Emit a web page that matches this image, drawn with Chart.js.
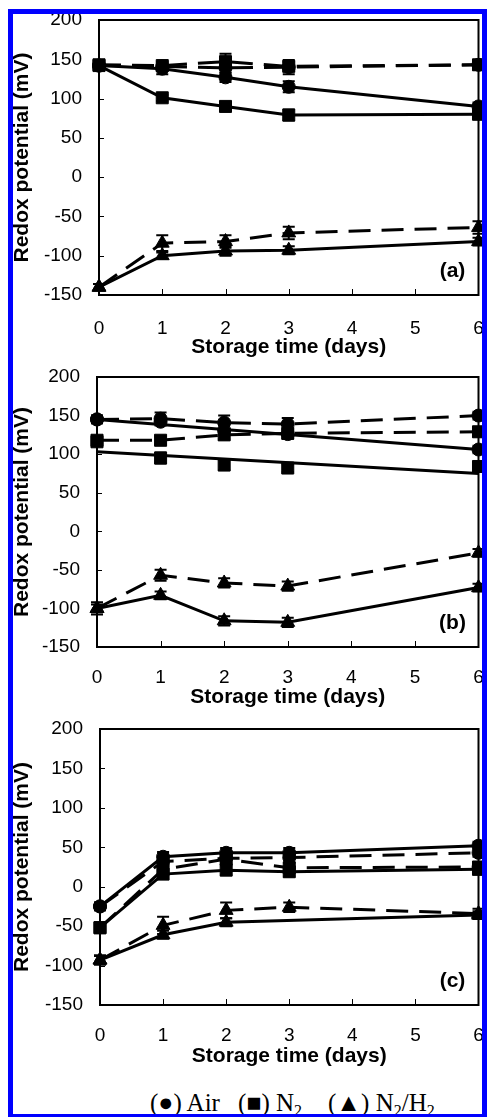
<!DOCTYPE html>
<html>
<head>
<meta charset="utf-8">
<script src="https://cdn.jsdelivr.net/npm/chart.js@4.4.0/dist/chart.umd.min.js"></script>
<style>
  html, body { margin: 0; padding: 0; background: #fff; }
  body { width: 488px; height: 1117px; position: relative; overflow: hidden; }
  canvas { position: absolute; left: 0; }
  #frame {
    position: absolute; left: 8px; top: 9px; width: 479px; height: 1110px;
    box-sizing: border-box; border: 5px solid #0000ff; z-index: 5; pointer-events: none;
  }
  .leg {
    position: absolute; top: 1091px; line-height: 24px;
    font-family: 'Liberation Serif', 'Times New Roman', serif; font-size: 25px;
    color: #000; white-space: nowrap;
  }
  .leg sub { font-size: 16px; vertical-align: -5px; line-height: 0; }
</style>
</head>
<body>
<canvas id="panel-a" style="top:0px" width="488" height="360"></canvas>
<canvas id="panel-b" style="top:360px" width="488" height="350"></canvas>
<canvas id="panel-c" style="top:710px" width="488" height="359"></canvas>
<div class="leg" style="left:150px">(●) Air</div>
<div class="leg" style="left:238px">(■) N<sub>2</sub></div>
<div class="leg" style="left:328px">(▲) N<sub>2</sub>/H<sub>2</sub></div>
<div id="frame"></div>
<script>
// Storage days and axis ticks
const days = [0, 1, 2, 3, 6];
const fitDays = [0, 6];
const xTicks = [0, 1, 2, 3, 4, 5, 6];
const yTicks = [-150, -100, -50, 0, 50, 100, 150, 200];

// Panel (a) redox potential (mV), error = +/- half bar
const aAirSolid = [142, 138, 127, 115, 90];
const aAirSolidErr = [5, 7, 6, 7, 5];
const aAirDash = [142, 141, 139, 140, 143];
const aAirDashErr = [5, 6, 6, 9, 5];
const aN2Solid = [142, 101, 90, 79, 80];
const aN2SolidErr = [4, 4, 4, 7, 6];
const aN2Dash = [143, 142, 147, 141, 143];
const aN2DashErr = [5, 5, 10, 6, 6];
const aMixSolid = [-140, -100, -94, -93, -82];
const aMixSolidErr = [4, 4, 6, 5, 5];
const aMixDash = [-140, -84, -82, -71, -64];
const aMixDashErr = [4, 10, 8, 8, 8];

// Panel (b)
const bAirSolid = [145, 142, 131, 126, 106];
const bAirSolidErr = [5, 5, 6, 6, 5];
const bAirFit = [145, 106];
const bAirDash = [145, 146, 141, 139, 150];
const bAirDashErr = [5, 8, 9, 8, 5];
const bN2Solid = [116, 95, 86, 82, 84];
const bN2SolidErr = [5, 7, 7, 5, 5];
const bN2Fit = [103, 75];
const bN2Dash = [118, 118, 125, 127, 129];
const bN2DashErr = [5, 5, 6, 6, 6];
const bMixSolid = [-100, -83, -116, -118, -73];
const bMixSolidErr = [5, 5, 6, 6, 5];
const bMixDash = [-100, -57, -67, -71, -28];
const bMixDashErr = [8, 7, 6, 6, 5];

// Panel (c)
const cAirSolid = [-25, 38, 43, 43, 52];
const cAirSolidErr = [5, 6, 6, 6, 5];
const cAirDash = [-25, 32, 36, 37, 43];
const cAirDashErr = [5, 6, 6, 6, 5];
const cN2Solid = [-52, 16, 21, 19, 22];
const cN2SolidErr = [6, 6, 6, 6, 5];
const cN2Dash = [-52, 22, 35, 24, 25];
const cN2DashErr = [6, 6, 6, 6, 5];
const cMixSolid = [-93, -61, -45, null, -36];
const cMixSolidErr = [5, 5, 5, 0, 5];
const cMixDash = [-93, -49, -30, -26, -34];
const cMixDashErr = [6, 11, 10, 6, 6];

Chart.defaults.font.family = 'Arial, "Liberation Sans", sans-serif';
Chart.defaults.color = '#000';

const MARKERS = {
  air: { pointStyle: 'circle', pointRadius: 6.5 },
  n2: { pointStyle: 'rect', pointRadius: 8.5 },
  mix: { pointStyle: 'triangle', pointRadius: 8 },
};

function toPoints(xs, ys) {
  return xs.map((d, i) => ({ x: d, y: ys[i] }));
}

// one series: markers + optional connecting line
function series(vals, err, gas, dashed, showLine = true) {
  return {
    data: toPoints(days, vals),
    err,
    showLine,
    spanGaps: true,
    borderColor: '#000',
    backgroundColor: '#000',
    borderWidth: 3,
    borderDash: dashed ? [22, 11] : [],
    pointBorderWidth: 1,
    pointBackgroundColor: '#000',
    pointBorderColor: '#000',
    clip: false,
    ...MARKERS[gas],
  };
}

function fitLine(vals) {
  return {
    data: toPoints(fitDays, vals),
    showLine: true,
    borderColor: '#000',
    borderWidth: 3,
    pointRadius: 0,
    clip: false,
  };
}

// frame, inside ticks, error bars and panel letter
const panelPlugin = {
  id: 'panelDecor',
  afterDatasetsDraw(chart, args, opts) {
    const { ctx, chartArea: a, scales: { x, y } } = chart;
    ctx.save();
    ctx.strokeStyle = '#000';
    ctx.lineWidth = 2;
    chart.data.datasets.forEach(ds => {
      if (!ds.err) return;
      ds.data.forEach((p, i) => {
        const e = ds.err[i];
        if (p.y == null || !e) return;
        const px = x.getPixelForValue(p.x);
        const t = y.getPixelForValue(p.y + e);
        const b = y.getPixelForValue(p.y - e);
        ctx.beginPath();
        ctx.moveTo(px, t); ctx.lineTo(px, b);
        ctx.moveTo(px - 6, t); ctx.lineTo(px + 6, t);
        ctx.moveTo(px - 6, b); ctx.lineTo(px + 6, b);
        ctx.stroke();
      });
    });
    ctx.lineWidth = 2;
    ctx.strokeRect(a.left, a.top, a.right - a.left, a.bottom - a.top);
    ctx.lineWidth = 1;
    ctx.beginPath();
    yTicks.slice(1, -1).forEach(v => {
      const py = Math.round(y.getPixelForValue(v)) + 0.5;
      ctx.moveTo(a.left, py); ctx.lineTo(a.left + 5, py);
    });
    xTicks.slice(1, -1).forEach(v => {
      const px = Math.round(x.getPixelForValue(v)) + 0.5;
      ctx.moveTo(px, a.bottom); ctx.lineTo(px, a.bottom - 6);
    });
    ctx.stroke();
    ctx.fillStyle = '#000';
    ctx.font = 'bold 21px Arial, "Liberation Sans", sans-serif';
    ctx.textAlign = 'center';
    ctx.textBaseline = 'middle';
    ctx.fillText(opts.label, a.right - 26, a.bottom - 24);
    ctx.restore();
  },
};

function makePanel(id, datasets, g) {
  return new Chart(document.getElementById(id), {
    type: 'scatter',
    data: { datasets },
    plugins: [panelPlugin],
    options: {
      responsive: false,
      animation: false,
      layout: { padding: { top: g.top, right: g.right, left: 0, bottom: 0 } },
      plugins: {
        legend: { display: false },
        tooltip: { enabled: false },
        panelDecor: { label: g.label },
      },
      scales: {
        x: {
          type: 'linear',
          min: 0, max: 6,
          afterBuildTicks: s => { s.ticks = xTicks.map(v => ({ value: v })); },
          afterFit: s => { s.height = g.xh; },
          // tick marks are drawn inside by the plugin; tickLength only offsets labels
          grid: { display: false, drawTicks: true, tickLength: g.xpad },
          border: { display: false },
          ticks: { font: { size: 19 }, padding: 0, maxRotation: 0, autoSkip: false },
          title: {
            display: true, text: 'Storage time (days)',
            font: { size: 21, weight: 'bold' }, padding: { top: 0, bottom: 0 },
          },
        },
        y: {
          type: 'linear',
          min: -150, max: 200,
          afterBuildTicks: s => { s.ticks = yTicks.map(v => ({ value: v })); },
          afterFit: s => { s.width = g.left; },
          grid: { display: false, drawTicks: true, tickLength: 17 },
          border: { display: false },
          ticks: { font: { size: 19 }, padding: 0 },
          title: {
            display: true, text: 'Redox potential (mV)',
            font: { size: 21, weight: 'bold' }, padding: { top: 10, bottom: 0 },
          },
        },
      },
    },
  });
}

makePanel('panel-a', [
  series(aAirSolid, aAirSolidErr, 'air', false),
  series(aAirDash, aAirDashErr, 'air', true),
  series(aN2Solid, aN2SolidErr, 'n2', false),
  series(aN2Dash, aN2DashErr, 'n2', true),
  series(aMixSolid, aMixSolidErr, 'mix', false),
  series(aMixDash, aMixDashErr, 'mix', true),
], { top: 20, right: 7, left: 99, xh: 65, xpad: 22, label: '(a)' });

makePanel('panel-b', [
  fitLine(bAirFit),
  fitLine(bN2Fit),
  series(bAirSolid, bAirSolidErr, 'air', false, false),
  series(bAirDash, bAirDashErr, 'air', true),
  series(bN2Solid, bN2SolidErr, 'n2', false, false),
  series(bN2Dash, bN2DashErr, 'n2', true),
  series(bMixSolid, bMixSolidErr, 'mix', false),
  series(bMixDash, bMixDashErr, 'mix', true),
], { top: 17, right: 7, left: 97, xh: 63, xpad: 19, label: '(b)' });

makePanel('panel-c', [
  series(cAirSolid, cAirSolidErr, 'air', false),
  series(cAirDash, cAirDashErr, 'air', true),
  series(cN2Solid, cN2SolidErr, 'n2', false),
  series(cN2Dash, cN2DashErr, 'n2', true),
  series(cMixSolid, cMixSolidErr, 'mix', false),
  series(cMixDash, cMixDashErr, 'mix', true),
], { top: 19, right: 5, left: 100, xh: 64, xpad: 19, label: '(c)' });
</script>
</body>
</html>
